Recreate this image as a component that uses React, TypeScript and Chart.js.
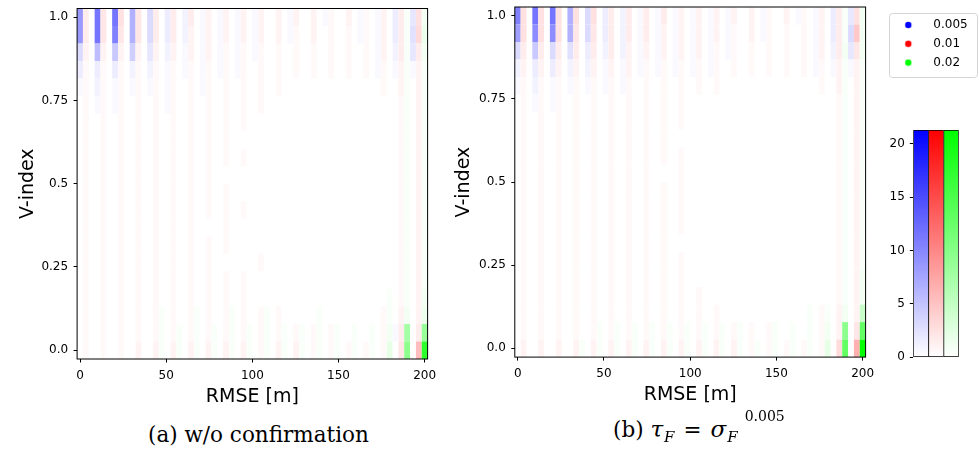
import React, { useEffect, useRef } from 'react';
import { Chart, registerables } from 'chart.js';

Chart.register(...registerables);

// ---------------- data ----------------
// RMSE bin centres (60 columns, three interleaved series: 0.005 / 0.01 / 0.02)
const RMSE_BINS = [
  0, 3.39, 6.78, 10.17, 13.56, 16.95, 20.34, 23.73, 27.12, 30.51,
  33.9, 37.29, 40.68, 44.07, 47.46, 50.85, 54.24, 57.63, 61.02, 64.41,
  67.8, 71.19, 74.58, 77.97, 81.36, 84.75, 88.14, 91.53, 94.92, 98.31,
  101.69, 105.08, 108.47, 111.86, 115.25, 118.64, 122.03, 125.42, 128.81, 132.2,
  135.59, 138.98, 142.37, 145.76, 149.15, 152.54, 155.93, 159.32, 162.71, 166.1,
  169.49, 172.88, 176.27, 179.66, 183.05, 186.44, 189.83, 193.22, 196.61, 200,
];
// V-index bin centres (20 rows, bottom to top)
const V_BINS = [
  0, 0.0526, 0.1053, 0.1579, 0.2105, 0.2632, 0.3158, 0.3684, 0.4211, 0.4737,
  0.5263, 0.5789, 0.6316, 0.6842, 0.7368, 0.7895, 0.8421, 0.8947, 0.9474, 1,
];
const X_TICKS = [0, 50, 100, 150, 200];
const X_TICK_LABELS = ['0', '50', '100', '150', '200'];
const Y_TICKS = [0, 0.25, 0.5, 0.75, 1];
const Y_TICK_LABELS = ['0.0', '0.25', '0.5', '0.75', '1.0'];
const CB_TICKS = [0, 5, 10, 15, 20];
const CB_TICK_LABELS = ['0', '5', '10', '15', '20'];
const VMAX = 21.3;
const SERIES_LABELS = ['0.005', '0.01', '0.02'];
const SERIES_COLORS = ['#0000ff', '#ff0000', '#00ff00'];
const SERIES_RGB = [[0, 0, 255], [255, 0, 0], [0, 255, 0]];
// counts encoded as one character per cell, value = index * 0.5
const LEVEL_CODE = '0123456789abcdefghijklmnopqrstuvwxyzABCDEFGHIJKLMNOPQRSTUVWXYZ';
const LEVEL_STEP = 0.5;

// panel (a) w/o confirmation: rows top (V=1.0) to bottom (V=0.0), groups of B R G
const COUNTS_A = [
  'h30 n40 n50 d40 630 330 230 120 120 120 120 020 120 020 110 020 110 120 331 452',
  'h30 n40 l40 d40 630 330 220 120 120 120 120 020 110 020 010 010 110 120 331 563',
  '620 b20 920 820 420 220 120 120 110 110 110 010 010 010 010 010 010 120 231 432',
  '310 310 310 210 210 110 110 110 110 110 010 010 010 010 010 010 010 110 121 121',
  '110 210 110 110 110 110 010 110 010 010 010 010 000 000 000 000 000 010 021 021',
  '010 110 110 010 010 110 010 010 010 010 010 000 000 000 000 000 000 000 011 021',
  '010 010 010 010 010 010 010 010 010 010 000 000 000 000 000 000 000 000 011 021',
  '010 010 010 010 010 010 010 010 010 000 000 000 000 000 000 000 000 000 011 021',
  '010 010 010 010 010 010 010 010 010 010 000 000 000 000 000 000 000 000 011 021',
  '010 010 010 010 010 010 010 010 000 000 000 000 000 000 000 000 000 000 011 021',
  '010 010 010 010 010 010 010 010 010 000 000 000 000 000 000 000 000 000 011 021',
  '010 010 010 010 010 010 010 010 010 010 000 000 000 000 000 000 000 000 011 021',
  '010 010 010 010 010 010 010 000 010 000 000 000 000 000 000 000 000 000 011 021',
  '010 010 010 010 010 010 010 010 010 000 000 000 000 000 000 000 000 000 011 021',
  '010 010 010 010 010 010 010 010 000 000 010 000 000 000 000 000 000 000 011 021',
  '010 010 010 010 010 010 010 010 010 010 000 000 000 000 000 000 000 000 011 021',
  '010 010 010 010 010 010 010 010 010 010 000 000 000 000 000 000 000 001 011 022',
  '010 010 010 010 011 010 011 010 011 010 011 010 000 001 000 000 000 011 022 023',
  '010 010 010 010 011 011 011 011 011 011 011 011 011 011 011 001 001 012 13f 03h',
  '010 010 010 020 021 021 021 021 021 021 011 021 021 011 011 011 011 014 04j 0bz',
];

// panel (b) tau_F = sigma_F^0.005
const COUNTS_B = [
  'l50 n50 n50 d50 650 330 230 130 130 120 120 120 120 020 110 020 110 120 331 452',
  'g50 j50 j50 d40 640 330 230 130 120 120 120 120 110 020 110 010 010 120 331 692',
  '630 930 630 530 330 230 220 120 120 120 120 110 110 010 010 010 010 120 232 442',
  '220 320 320 220 220 120 120 110 110 110 110 110 010 010 010 010 010 110 121 121',
  '110 210 110 110 110 110 110 010 010 010 010 010 000 000 000 000 000 010 021 021',
  '010 110 110 010 010 010 010 010 010 010 000 000 000 000 000 000 000 000 011 021',
  '010 010 010 010 010 010 010 010 010 010 000 000 000 000 000 000 000 000 011 021',
  '010 010 010 010 010 010 010 010 010 000 000 000 000 000 000 000 000 000 011 021',
  '010 010 010 010 010 010 010 010 010 010 000 000 000 000 000 000 000 000 011 021',
  '010 010 010 010 010 010 010 010 000 010 000 000 000 000 000 000 000 000 011 021',
  '010 010 010 010 010 010 010 010 010 010 000 000 000 000 000 000 000 000 011 021',
  '010 010 010 010 010 010 010 010 010 010 000 000 000 000 000 000 000 000 011 021',
  '010 010 010 010 010 010 010 010 010 010 000 000 000 000 000 000 000 000 011 021',
  '010 010 010 010 010 010 010 010 010 000 000 000 000 000 000 000 000 000 011 021',
  '010 010 010 010 010 010 010 010 010 010 000 000 000 000 000 000 000 000 011 021',
  '010 010 010 010 010 010 010 010 010 010 000 000 000 000 000 000 000 000 011 022',
  '010 010 010 010 010 010 010 010 010 010 010 000 000 000 000 000 000 000 011 022',
  '010 010 010 010 010 010 010 010 010 010 010 010 000 000 000 000 001 011 022 029',
  '010 010 010 010 011 011 011 011 011 011 011 011 011 010 011 001 001 012 02j 04q',
  '020 020 020 021 021 021 021 021 021 021 021 021 021 011 011 011 011 014 06q 0dG',
];

// ---------------- helpers ----------------
const SANS = 'DejaVu Sans';

function decodeGrid(rows: string[]): number[][] {
  return rows.map((r) =>
    r.replace(/\s+/g, '').split('').map((ch) => LEVEL_CODE.indexOf(ch) * LEVEL_STEP)
  );
}

function binEdges(c: number[]): number[] {
  const n = c.length;
  const e = [c[0] - (c[1] - c[0]) / 2];
  for (let i = 1; i < n; i++) e.push((c[i - 1] + c[i]) / 2);
  e.push(c[n - 1] + (c[n - 1] - c[n - 2]) / 2);
  return e;
}

type Geom = {
  left: number; top: number; width: number; height: number;
  padTop: number; padRight: number; yAxisWidth: number; xAxisHeight: number;
  xTitlePad: number; yTitlePad: number;
};

const GEOM_A: Geom = { left: 0, top: 0, width: 440, height: 410, padTop: 8.5, padRight: 12.4, yAxisWidth: 77.1, xAxisHeight: 51, xTitlePad: 3, yTitlePad: 18.5 };
const GEOM_B: Geom = { left: 440, top: 0, width: 440, height: 410, padTop: 7, padRight: 14.4, yAxisWidth: 74.8, xAxisHeight: 52.9, xTitlePad: 5.3, yTitlePad: 15 };

function HeatPanel({ rows, geom }: { rows: string[]; geom: Geom }) {
  const ref = useRef<HTMLCanvasElement>(null);
  useEffect(() => {
    const grid = decodeGrid(rows);
    const xEdges = binEdges(RMSE_BINS);
    const yEdges = binEdges(V_BINS);
    const heat = {
      id: 'heat',
      beforeDatasetsDraw(chart: any) {
        const { ctx, chartArea: a, scales } = chart;
        const xs = scales.x;
        const ys = scales.y;
        ctx.save();
        ctx.beginPath();
        ctx.rect(a.left, a.top, a.right - a.left, a.bottom - a.top);
        ctx.clip();
        grid.forEach((row, r) => {
          const vi = V_BINS.length - 1 - r;
          const y0 = ys.getPixelForValue(yEdges[vi + 1]);
          const y1 = ys.getPixelForValue(yEdges[vi]);
          row.forEach((v, c) => {
            if (!(v > 0)) return;
            const x0 = xs.getPixelForValue(xEdges[c]);
            const x1 = xs.getPixelForValue(xEdges[c + 1]);
            const t = Math.min(v / VMAX, 1);
            const rgb = SERIES_RGB[c % SERIES_RGB.length].map((k) => Math.round(255 + (k - 255) * t));
            ctx.fillStyle = `rgb(${rgb[0]},${rgb[1]},${rgb[2]})`;
            ctx.fillRect(x0, y0, x1 - x0, y1 - y0);
          });
        });
        ctx.restore();
      },
      afterDraw(chart: any) {
        const { ctx, chartArea: a } = chart;
        ctx.save();
        ctx.strokeStyle = '#000';
        ctx.lineWidth = 1;
        ctx.strokeRect(a.left, a.top, a.right - a.left, a.bottom - a.top);
        ctx.restore();
      },
    };
    const tickFont = { family: SANS, size: 12 };
    const titleFont = { family: SANS, size: 19, lineHeight: 1 };
    const gridOpts = { display: true, drawOnChartArea: false, drawTicks: true, tickLength: 3.5, color: '#000', lineWidth: 1 };
    const chart = new Chart(ref.current!, {
      type: 'scatter',
      data: { datasets: [] },
      options: {
        responsive: false,
        animation: false,
        events: [],
        layout: { padding: { left: 0, top: geom.padTop, right: geom.padRight, bottom: 0 } },
        plugins: { legend: { display: false }, tooltip: { enabled: false } },
        scales: {
          x: {
            type: 'linear',
            min: xEdges[0],
            max: xEdges[xEdges.length - 1],
            afterBuildTicks: (s: any) => { s.ticks = X_TICKS.map((v) => ({ value: v })); },
            afterFit: (s: any) => { s.height = geom.xAxisHeight; s.paddingLeft = 0; s.paddingRight = 0; },
            ticks: {
              autoSkip: false, maxRotation: 0, padding: 6.5, color: '#000', font: tickFont,
              callback: (v: any) => X_TICK_LABELS[X_TICKS.indexOf(Number(v))],
            },
            grid: gridOpts,
            border: { display: false },
            title: { display: true, text: 'RMSE [m]', color: '#000', font: titleFont, padding: { top: 0, bottom: geom.xTitlePad } },
          },
          y: {
            type: 'linear',
            min: yEdges[0],
            max: yEdges[yEdges.length - 1],
            afterBuildTicks: (s: any) => { s.ticks = Y_TICKS.map((v) => ({ value: v })); },
            afterFit: (s: any) => { s.width = geom.yAxisWidth; s.paddingTop = 0; s.paddingBottom = 0; },
            ticks: {
              autoSkip: false, padding: 5.5, color: '#000', font: tickFont,
              callback: (v: any) => Y_TICK_LABELS[Y_TICKS.indexOf(Number(v))],
            },
            grid: gridOpts,
            border: { display: false },
            title: { display: true, text: 'V-index', color: '#000', font: titleFont, padding: { top: geom.yTitlePad, bottom: 0 } },
          },
        },
      } as any,
      plugins: [heat],
    });
    return () => chart.destroy();
  }, [rows, geom]);
  return (
    <canvas
      ref={ref}
      width={geom.width}
      height={geom.height}
      style={{ position: 'absolute', left: geom.left, top: geom.top, width: geom.width, height: geom.height }}
    />
  );
}

function LegendBox() {
  const ref = useRef<HTMLCanvasElement>(null);
  useEffect(() => {
    const dots = SERIES_COLORS.map((col) => {
      const c = document.createElement('canvas');
      c.width = 36;
      c.height = 8;
      const g = c.getContext('2d')!;
      g.fillStyle = col;
      g.beginPath();
      g.arc(17, 4, 3.2, 0, Math.PI * 2);
      g.fill();
      return c;
    });
    const frame = {
      id: 'legendFrame',
      afterDraw(chart: any) {
        const hb = chart.legend && chart.legend.legendHitBoxes;
        if (!hb || !hb.length) return;
        const { ctx } = chart;
        const x0 = hb[0].left - 2;
        const y0 = hb[0].top - 5.7;
        const x1 = x0 + 88;
        const y1 = hb[hb.length - 1].top + 12 + 8.7;
        ctx.save();
        ctx.strokeStyle = '#d4d4d4';
        ctx.lineWidth = 1;
        ctx.beginPath();
        if (ctx.roundRect) ctx.roundRect(Math.round(x0) + 0.5, Math.round(y0) + 0.5, Math.round(x1 - x0), Math.round(y1 - y0), 3);
        else ctx.rect(Math.round(x0) + 0.5, Math.round(y0) + 0.5, Math.round(x1 - x0), Math.round(y1 - y0));
        ctx.stroke();
        ctx.restore();
      },
    };
    const chart = new Chart(ref.current!, {
      type: 'scatter',
      data: {
        datasets: SERIES_LABELS.map((l, i) => ({ label: l, data: [], backgroundColor: SERIES_COLORS[i] })),
      },
      options: {
        responsive: false,
        animation: false,
        events: [],
        layout: { padding: { left: 4.5, top: 12.2, right: 0, bottom: 0 } },
        scales: { x: { display: false }, y: { display: false } },
        plugins: {
          tooltip: { enabled: false },
          legend: {
            display: true,
            position: 'top',
            align: 'start',
            maxHeight: 120,
            labels: {
              usePointStyle: true,
              pointStyleWidth: 36,
              boxHeight: 8,
              padding: 6.8,
              color: '#000',
              font: { family: SANS, size: 12 },
              generateLabels: (ch: any) =>
                ch.data.datasets.map((ds: any, i: number) => ({
                  text: ds.label,
                  fillStyle: ds.backgroundColor,
                  strokeStyle: ds.backgroundColor,
                  lineWidth: 0,
                  pointStyle: dots[i],
                  hidden: false,
                  datasetIndex: i,
                  fontColor: '#000',
                })),
            },
          },
        },
      } as any,
      plugins: [frame],
    });
    return () => chart.destroy();
  }, []);
  return (
    <canvas ref={ref} width={99} height={200} style={{ position: 'absolute', left: 880, top: 0, width: 99, height: 200 }} />
  );
}

function ColorBars() {
  const ref = useRef<HTMLCanvasElement>(null);
  useEffect(() => {
    const chart = new Chart(ref.current!, {
      type: 'bar',
      data: {
        labels: SERIES_LABELS,
        datasets: [
          {
            data: SERIES_LABELS.map(() => VMAX),
            backgroundColor: (c: any) => {
              const ch = c.chart;
              const ys = ch.scales && ch.scales.y;
              if (!ch.chartArea || !ys) return SERIES_COLORS[c.dataIndex];
              const g = ch.ctx.createLinearGradient(0, ys.getPixelForValue(0), 0, ys.getPixelForValue(VMAX));
              g.addColorStop(0, '#ffffff');
              g.addColorStop(1, SERIES_COLORS[c.dataIndex]);
              return g;
            },
            borderColor: '#000',
            borderWidth: (c: any) => ({ top: 1, bottom: 1, left: 1, right: c.dataIndex === SERIES_LABELS.length - 1 ? 1 : 0 }),
            borderSkipped: false,
            categoryPercentage: 1,
            barPercentage: 1,
          },
        ],
      },
      options: {
        responsive: false,
        animation: false,
        events: [],
        layout: { padding: { left: 0, top: 10, right: 20.3, bottom: 12.7 } },
        plugins: { legend: { display: false }, tooltip: { enabled: false } },
        scales: {
          x: { display: false },
          y: {
            min: 0,
            max: VMAX,
            afterBuildTicks: (s: any) => { s.ticks = CB_TICKS.map((v) => ({ value: v })); },
            afterFit: (s: any) => { s.width = 33.3; s.paddingTop = 0; s.paddingBottom = 0; },
            ticks: {
              padding: 5, color: '#000', font: { family: SANS, size: 12 },
              callback: (v: any) => CB_TICK_LABELS[CB_TICKS.indexOf(Number(v))],
            },
            grid: { display: true, drawOnChartArea: false, drawTicks: true, tickLength: 3.5, color: '#000', lineWidth: 1 },
            border: { display: false },
          },
        },
      } as any,
    });
    return () => chart.destroy();
  }, []);
  return (
    <canvas ref={ref} width={99} height={250} style={{ position: 'absolute', left: 880, top: 120, width: 99, height: 250 }} />
  );
}

const CAPTION_STYLE: React.CSSProperties = {
  position: 'absolute',
  fontFamily: '"DejaVu Serif", serif',
  fontSize: 21.5,
  lineHeight: 1,
  whiteSpace: 'nowrap',
  color: '#000',
};
const GREEK: React.CSSProperties = { fontStyle: 'italic', fontSize: 23 };
const SUB: React.CSSProperties = { fontSize: 15, fontStyle: 'italic', position: 'relative', top: 5, lineHeight: 0, marginLeft: 1 };
const SUP: React.CSSProperties = { fontSize: 14, position: 'relative', top: -16, lineHeight: 0, marginLeft: 7 };
const EQ: React.CSSProperties = { margin: '0 9px' };

export default function App() {
  return (
    <div style={{ position: 'absolute', left: 0, top: 0, width: 979, height: 451, background: '#fff', overflow: 'hidden' }}>
      <HeatPanel rows={COUNTS_A} geom={GEOM_A} />
      <HeatPanel rows={COUNTS_B} geom={GEOM_B} />
      <LegendBox />
      <ColorBars />
      <div style={{ ...CAPTION_STYLE, left: 148, top: 424 }}>(a) w/o confirmation</div>
      <div style={{ ...CAPTION_STYLE, left: 613, top: 418 }}>
        (b) <span style={GREEK}>τ</span><span style={SUB}>F</span><span style={EQ}>=</span><span style={GREEK}>σ</span><span style={SUB}>F</span><span style={SUP}>0.005</span>
      </div>
    </div>
  );
}
